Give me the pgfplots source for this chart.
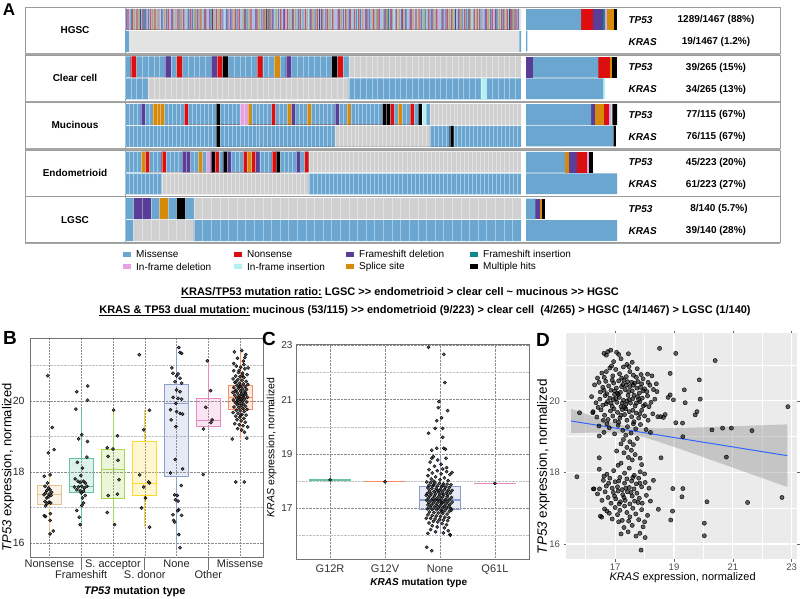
\documentclass[border=0pt]{standalone}
\usepackage{fontspec}
\setmainfont{Liberation Sans}
\usepackage{pgfplots}
\pgfplotsset{compat=1.18}

% mutation classes
\definecolor{mis}{HTML}{6AA6CF}
\definecolor{non}{HTML}{DD0E0E}
\definecolor{fsd}{HTML}{5A3D96}
\definecolor{fsi}{HTML}{0E8A8A}
\definecolor{ifd}{HTML}{E3A3DF}
\definecolor{ifi}{HTML}{B5F0F0}
\definecolor{spl}{HTML}{D68A0C}
\definecolor{mul}{HTML}{000000}
\definecolor{nomut}{HTML}{D0D0D0}
\definecolor{hgscmis}{HTML}{A6C5E0}
\definecolor{framegray}{HTML}{9C9C9C}
% box colours
\definecolor{sTan}{HTML}{E5C494}
\definecolor{sTeal}{HTML}{66C2A5}
\definecolor{sLime}{HTML}{A6D854}
\definecolor{sYel}{HTML}{FFD92F}
\definecolor{sBlue}{HTML}{8DA0CB}
\definecolor{sPink}{HTML}{E78AC3}
\definecolor{sOra}{HTML}{FC8D62}
\definecolor{fitline}{HTML}{3366FF}

\newcommand{\fs}[1]{\fontsize{#1}{#1}\selectfont}
\newcommand{\low}[1]{\raisebox{-10.5pt}[0pt][0pt]{#1}}
% one class of cells in a track: pairs (start,1)(end,0)
\newcommand{\cells}[2]{\addplot[const plot, fill=#1, draw=none] coordinates {#2} \closedcycle;}
\newcommand{\cellsT}[2]{\addplot[const plot, fill=#1, fill opacity=0.6, draw=none] coordinates {#2} \closedcycle;}
% box: colour, left, centre, right, lower whisker, Q1, median, Q3, upper whisker
\newcommand{\bbox}[9]{%
  \addplot[draw=#1, line width=0.8pt] coordinates {(#3,#5)(#3,#6)};
  \addplot[draw=#1, line width=0.8pt] coordinates {(#3,#8)(#3,#9)};
  \addplot[draw=#1, fill=#1, fill opacity=0.22, line width=0.8pt] coordinates {(#2,#6)(#4,#6)(#4,#8)(#2,#8)} -- cycle;
  \addplot[draw=#1, line width=1.1pt] coordinates {(#2,#7)(#4,#7)};}

\pgfplotsset{
  track/.style={scale only axis, width=396pt, height=21pt, xmin=0, xmax=#1,
    ymin=0, ymax=1, axis line style={draw=none}, tick style={draw=none},
    xticklabels={}, ytick=\empty, axis on top, xmajorgrids,
    major grid style={white, opacity=0.4, line width=0.35pt},
    anchor=north west},
  summ/.style={scale only axis, width=91pt, height=43pt, xmin=0, xmax=#1,
    ymin=0.5, ymax=2.5, xbar stacked, bar width=0.96, hide axis, anchor=north west},
  pts/.style={only marks, mark=*, mark size=1.6pt,
    mark options={draw=none, fill=black!85, fill opacity=0.75}},
  vgrid/.style={black!45, densely dotted, line width=0.5pt},
}

\begin{document}
\begin{tikzpicture}
\path[use as bounding box] (0,0) rectangle (800pt,-599pt);

% ================= A =================
\node[font=\fs{17}\bfseries] at (9pt,-10pt) {A};
\foreach \t/\nm in {7.3/HGSC, 55/Clear cell, 102.3/Mucinous, 150/Endometrioid, 196.7/LGSC} {
  \draw[framegray, line width=0.7pt] (25pt,{-\t*1pt}) rectangle (780pt,{-(\t+46)*1pt});
  \draw[black!35, line width=1.4pt] (25pt,{-(\t+46.6)*1pt}) -- (780pt,{-(\t+46.6)*1pt});
  \draw[framegray, line width=0.7pt] (125pt,{-\t*1pt}) -- (125pt,{-(\t+46)*1pt});
  \node[font=\fs{10}\bfseries] at (75pt,{-(\t+23)*1pt}) {\nm};
  \node[anchor=west, font=\fs{10}\bfseries\itshape] at (625pt,{-(\t+12.5)*1pt}) {TP53};
  \node[anchor=west, font=\fs{10}\bfseries\itshape] at (625pt,{-(\t+34.5)*1pt}) {KRAS};
}
\node[font=\fs{10}\bfseries] at (716pt,-19.8pt) {1289/1467 (88\%)};
\node[font=\fs{10}\bfseries] at (716pt,-41.8pt) {19/1467 (1.2\%)};
\node[font=\fs{10}\bfseries] at (716pt,-67.5pt) {39/265 (15\%)};
\node[font=\fs{10}\bfseries] at (716pt,-89.5pt) {34/265 (13\%)};
\node[font=\fs{10}\bfseries] at (716pt,-114.8pt) {77/115 (67\%)};
\node[font=\fs{10}\bfseries] at (716pt,-136.8pt) {76/115 (67\%)};
\node[font=\fs{10}\bfseries] at (716pt,-162.5pt) {45/223 (20\%)};
\node[font=\fs{10}\bfseries] at (716pt,-184.5pt) {61/223 (27\%)};
\node[font=\fs{10}\bfseries] at (719pt,-209.2pt) {8/140 (5.7\%)};
\node[font=\fs{10}\bfseries] at (716pt,-231.2pt) {39/140 (28\%)};

% ---- HGSC (1294 samples shown)
\begin{axis}[track=1294, at={(125pt,-8.8pt)}, xtick=\empty]
\cells{hgscmis}{(0,1)(1289,0)}
\cells{nomut!60!white}{(1289,1)(1294,0)}
\cellsT{non}{(8,1)(12,0)(37,1)(41,0)(81,1)(85,0)(96,1)(100,0)(139,1)(143,0)(171,1)(175,0)(190,1)(194,0)(236,1)(240,0)(262,1)(266,0)(297,1)(301,0)(311,1)(315,0)(358,1)(362,0)(371,1)(375,0)(410,1)(414,0)(452,1)(456,0)(466,1)(470,0)(507,1)(511,0)(529,1)(533,0)(571,1)(575,0)(588,1)(592,0)(626,1)(630,0)(660,1)(664,0)(677,1)(681,0)(719,1)(723,0)(748,1)(752,0)(762,1)(766,0)(811,1)(815,0)(829,1)(833,0)(870,1)(874,0)(884,1)(888,0)(930,1)(934,0)(949,1)(953,0)(990,1)(994,0)(1017,1)(1021,0)(1051,1)(1055,0)(1066,1)(1070,0)(1108,1)(1112,0)(1139,1)(1143,0)(1157,1)(1161,0)(1198,1)(1202,0)(1229,1)(1233,0)(1247,1)(1251,0)(1276,1)(1280,0)}
\cellsT{non}{(23,1)(26,0)(60,1)(63,0)(110,1)(113,0)(155,1)(158,0)(212,1)(215,0)(244,1)(247,0)(285,1)(288,0)(336,1)(339,0)(389,1)(392,0)(430,1)(433,0)(475,1)(478,0)(520,1)(523,0)(548,1)(551,0)(607,1)(610,0)(642,1)(645,0)(700,1)(703,0)(735,1)(738,0)(790,1)(793,0)(845,1)(848,0)(905,1)(908,0)(960,1)(963,0)(1005,1)(1008,0)(1040,1)(1043,0)(1090,1)(1093,0)(1125,1)(1128,0)(1180,1)(1183,0)(1210,1)(1213,0)(1258,1)(1261,0)}
\cellsT{fsd}{(18,1)(23,0)(55,1)(60,0)(66,1)(71,0)(118,1)(123,0)(150,1)(155,0)(205,1)(210,0)(218,1)(223,0)(275,1)(280,0)(330,1)(335,0)(343,1)(348,0)(392,1)(397,0)(425,1)(430,0)(481,1)(486,0)(517,1)(522,0)(545,1)(550,0)(603,1)(608,0)(640,1)(645,0)(695,1)(700,0)(731,1)(736,0)(785,1)(790,0)(796,1)(801,0)(848,1)(853,0)(902,1)(907,0)(915,1)(920,0)(966,1)(971,0)(1000,1)(1005,0)(1034,1)(1039,0)(1088,1)(1093,0)(1120,1)(1125,0)(1175,1)(1180,0)(1209,1)(1214,0)(1262,1)(1267,0)(1283,1)(1288,0)}
\cellsT{fsd}{(3,1)(6,0)(75,1)(78,0)(134,1)(137,0)(178,1)(181,0)(258,1)(261,0)(318,1)(321,0)(365,1)(368,0)(446,1)(449,0)(500,1)(503,0)(565,1)(568,0)(620,1)(623,0)(655,1)(658,0)(712,1)(715,0)(768,1)(771,0)(825,1)(828,0)(866,1)(869,0)(935,1)(938,0)(995,1)(998,0)(1047,1)(1050,0)(1100,1)(1103,0)(1150,1)(1153,0)(1193,1)(1196,0)(1235,1)(1238,0)(1272,1)(1275,0)}
\cellsT{spl}{(28,1)(32,0)(89,1)(93,0)(127,1)(131,0)(183,1)(187,0)(248,1)(252,0)(305,1)(309,0)(384,1)(388,0)(437,1)(441,0)(492,1)(496,0)(556,1)(560,0)(612,1)(616,0)(668,1)(672,0)(705,1)(709,0)(775,1)(779,0)(820,1)(824,0)(895,1)(899,0)(940,1)(944,0)(975,1)(979,0)(1058,1)(1062,0)(1095,1)(1099,0)(1148,1)(1152,0)(1185,1)(1189,0)(1238,1)(1242,0)(1268,1)(1272,0)}
\cellsT{spl}{(44,1)(47,0)(104,1)(107,0)(165,1)(168,0)(226,1)(229,0)(290,1)(293,0)(350,1)(353,0)(404,1)(407,0)(458,1)(461,0)(537,1)(540,0)(595,1)(598,0)(648,1)(651,0)(724,1)(727,0)(806,1)(809,0)(853,1)(856,0)(910,1)(913,0)(958,1)(961,0)(1012,1)(1015,0)(1070,1)(1073,0)(1128,1)(1131,0)(1222,1)(1225,0)}
\cellsT{fsi}{(62,1)(65,0)(230,1)(233,0)(398,1)(401,0)(470,1)(473,0)(580,1)(583,0)(755,1)(758,0)(860,1)(863,0)(980,1)(983,0)(1115,1)(1118,0)(1165,1)(1168,0)(1215,1)(1218,0)}
\cellsT{ifd}{(70,1)(73,0)(145,1)(149,0)(270,1)(273,0)(338,1)(342,0)(418,1)(421,0)(523,1)(527,0)(632,1)(635,0)(688,1)(692,0)(780,1)(783,0)(940,1)(943,0)(1025,1)(1029,0)(1083,1)(1086,0)(1168,1)(1172,0)(1205,1)(1208,0)}
\cellsT{mul}{(49,1)(52,0)(283,1)(286,0)(461,1)(464,0)(634,1)(637,0)(858,1)(861,0)(1078,1)(1081,0)(1255,1)(1258,0)}
\cellsT{ifi}{(112,1)(116,0)(324,1)(328,0)(597,1)(601,0)(877,1)(881,0)(1132,1)(1136,0)}
\end{axis}
\begin{axis}[track=1294, at={(125pt,-30.8pt)}, xtick=\empty]
\cells{mis}{(0,1)(14,0)}
\cells{nomut!60!white}{(14,1)(1289,0)}
\cells{mis}{(1289,1)(1294,0)}
\end{axis}
\begin{axis}[summ=1289, at={(526pt,-8.8pt)}]
\addplot[fill=mis, draw=none] coordinates {(780,2) (19,1)};
\addplot[fill=non, draw=none] coordinates {(166,2) (0,1)};
\addplot[fill=fsd, draw=none] coordinates {(142,2) (0,1)};
\addplot[fill=fsi, draw=none] coordinates {(33,2) (0,1)};
\addplot[fill=ifd, draw=none] coordinates {(22,2) (0,1)};
\addplot[fill=spl, draw=none] coordinates {(110,2) (0,1)};
\addplot[fill=mul, draw=none] coordinates {(36,2) (0,1)};
\end{axis}

% ---- Clear cell (69 samples shown)
\begin{axis}[track=69, at={(125pt,-56.5pt)}, xtick={0,1,...,69}]
\cells{mis}{(0,1)(39,0)}
\cells{nomut}{(39,1)(69,0)}
\cells{non}{(1,1)(2,0)(9,1)(10,0)(16,1)(17,0)(23,1)(24,0)(37,1)(38,0)}
\cells{fsd}{(7,1)(8,0)(15,1)(16,0)(28,1)(29,0)}
\cells{mul}{(17,1)(18,0)(36,1)(37,0)}
\cells{spl}{(26,1)(27,0)}
\end{axis}
\begin{axis}[track=69, at={(125pt,-78.5pt)}, xtick={0,1,...,69}]
\cells{mis}{(0,1)(4,0)}
\cells{nomut}{(4,1)(39,0)}
\cells{mis}{(39,1)(69,0)}
\cells{ifi}{(62,1)(63,0)}
\end{axis}
\begin{axis}[summ=39, at={(526pt,-56.5pt)}]
\addplot[fill=fsd, draw=none] coordinates {(3,2) (0,1)};
\addplot[fill=mis, draw=none] coordinates {(28,2) (33,1)};
\addplot[fill=non, draw=none] coordinates {(5,2) (0,1)};
\addplot[fill=spl, draw=none] coordinates {(1,2) (0,1)};
\addplot[fill=mul, draw=none] coordinates {(2,2) (0,1)};
\addplot[fill=ifi, draw=none] coordinates {(0,2) (1,1)};
\end{axis}

% ---- Mucinous (100 samples shown)
\begin{axis}[track=100, at={(125pt,-103.8pt)}, xtick={0,1,...,100}]
\cells{mis}{(0,1)(77,0)}
\cells{nomut}{(77,1)(100,0)}
\cells{fsd}{(4,1)(5,0)(42,1)(43,0)(53,1)(54,0)}
\cells{spl}{(7,1)(10,0)(31,1)(32,0)(41,1)(42,0)(46,1)(47,0)(56,1)(57,0)(69,1)(70,0)}
\cells{non}{(15,1)(16,0)(37,1)(38,0)(67,1)(68,0)(72,1)(73,0)}
\cells{mul}{(23,1)(24,0)(65,1)(67,0)(74,1)(75,0)}
\cells{ifd}{(29,1)(31,0)}
\cells{ifi}{(75,1)(76,0)}
\end{axis}
\begin{axis}[track=100, at={(125pt,-125.8pt)}, xtick={0,1,...,100}]
\cells{mis}{(0,1)(53,0)}
\cells{nomut}{(53,1)(77,0)}
\cells{mis}{(77,1)(100,0)}
\cells{mul}{(23,1)(24,0)(82,1)(83,0)}
\end{axis}
\begin{axis}[summ=77, at={(526pt,-103.8pt)}]
\addplot[fill=mis, draw=none] coordinates {(55,2) (74,1)};
\addplot[fill=fsd, draw=none] coordinates {(3,2) (0,1)};
\addplot[fill=spl, draw=none] coordinates {(8,2) (0,1)};
\addplot[fill=non, draw=none] coordinates {(4,2) (0,1)};
\addplot[fill=ifd, draw=none] coordinates {(2,2) (0,1)};
\addplot[fill=ifi, draw=none] coordinates {(1,2) (0,1)};
\addplot[fill=mul, draw=none] coordinates {(4,2) (2,1)};
\end{axis}

% ---- Endometrioid (97 samples shown)
\begin{axis}[track=97, at={(125pt,-151.5pt)}, xtick={0,1,...,97}]
\cells{mis}{(0,1)(45,0)}
\cells{nomut}{(45,1)(97,0)}
\cells{non}{(5,1)(6,0)(9,1)(10,0)(22,1)(23,0)(29,1)(30,0)(31,1)(32,0)(36,1)(37,0)(44,1)(45,0)}
\cells{spl}{(4,1)(5,0)(18,1)(19,0)(30,1)(31,0)}
\cells{fsd}{(14,1)(16,0)(25,1)(26,0)(32,1)(33,0)(42,1)(43,0)}
\cells{mul}{(21,1)(22,0)(24,1)(25,0)(37,1)(38,0)}
\cells{ifd}{(20,1)(21,0)}
\end{axis}
\begin{axis}[track=97, at={(125pt,-173.5pt)}, xtick={0,1,...,97}]
\cells{mis}{(0,1)(9,0)}
\cells{nomut}{(9,1)(45,0)}
\cells{mis}{(45,1)(97,0)}
\end{axis}
\begin{axis}[summ=61, at={(526pt,-151.5pt)}]
\addplot[fill=mis, draw=none] coordinates {(26,2) (61,1)};
\addplot[fill=spl, draw=none] coordinates {(3,2) (0,1)};
\addplot[fill=fsd, draw=none] coordinates {(5,2) (0,1)};
\addplot[fill=non, draw=none] coordinates {(7,2) (0,1)};
\addplot[fill=ifd, draw=none] coordinates {(1,2) (0,1)};
\addplot[fill=mul, draw=none] coordinates {(3,2) (0,1)};
\end{axis}

% ---- LGSC (46 samples shown)
\begin{axis}[track=46, at={(125pt,-198.2pt)}, xtick={0,1,...,46}]
\cells{mis}{(0,1)(8,0)}
\cells{nomut}{(8,1)(46,0)}
\cells{fsd}{(1,1)(3,0)}
\cells{spl}{(4,1)(5,0)}
\cells{mul}{(6,1)(7,0)}
\end{axis}
\begin{axis}[track=46, at={(125pt,-220.2pt)}, xtick={0,1,...,46}]
\cells{mis}{(0,1)(1,0)}
\cells{nomut}{(1,1)(8,0)}
\cells{mis}{(8,1)(46,0)}
\end{axis}
\begin{axis}[summ=39, at={(526pt,-198.2pt)}]
\addplot[fill=mis, draw=none] coordinates {(4,2) (39,1)};
\addplot[fill=fsd, draw=none] coordinates {(2,2) (0,1)};
\addplot[fill=spl, draw=none] coordinates {(1,2) (0,1)};
\addplot[fill=mul, draw=none] coordinates {(1,2) (0,1)};
\end{axis}

% ---- legend
\foreach \x/\y/\c/\l in {123/254/mis/Missense, 234/254/non/Nonsense, 346/254/fsd/Frameshift deletion, 470/254/fsi/Frameshift insertion,
  123/266.5/ifd/In-frame deletion, 234/266.5/ifi/In-frame insertion, 346/266.5/spl/Splice site, 470/266.5/mul/Multiple hits} {
  \fill[\c] (\x pt,{-(\y-2.5)*1pt}) rectangle ({(\x+8)*1pt},{-(\y+2.5)*1pt});
  \node[anchor=west, font=\fs{10}, inner sep=0pt] at ({(\x+13)*1pt},{-\y*1pt}) {\l};
}

\node[font=\fs{11}\bfseries] at (400pt,-293pt) {\underline{KRAS/TP53 mutation ratio:} LGSC >{}> endometrioid > clear cell \textasciitilde{} mucinous >{}> HGSC};
\node[font=\fs{11}\bfseries] at (425pt,-311pt) {\underline{KRAS \& TP53 dual mutation:} mucinous (53/115) >{}> endometrioid (9/223) > clear cell\ \ (4/265) > HGSC (14/1467) > LGSC (1/140)};

% ================= B =================
\node[font=\fs{19}\bfseries] at (10pt,-338pt) {B};
\begin{axis}[at={(30pt,-557pt)}, anchor=south west, scale only axis,
  width=233pt, height=219pt, xmin=0.39, xmax=7.72, ymin=15.61, ymax=21.77,
  clip=false,
  /pgf/number format/assume math mode=true,
  xtick={1,2,3,4,5,6,7},
  xticklabels={Nonsense,\low{Frameshift},S. acceptor,\low{S. donor},None,\low{Other},Missense},
  tick style={draw=none}, major tick length=0pt,
  ytick={16,18,20}, minor ytick={17,19,21}, minor tick length=0pt,
  ymajorgrids, yminorgrids,
  major grid style={black!45, densely dotted, line width=0.5pt},
  minor grid style={black!25, densely dotted, line width=0.4pt},
  axis line style={black!55, line width=0.7pt},
  tick label style={font=\fs{11}, text=black!85},
  yticklabel style={font=\fs{10.5}, xshift=-2pt},
  xticklabel style={inner sep=1.5pt, yshift=-1pt, text height=8pt, text depth=2pt},
  xlabel={\textbf{\textit{TP53} mutation type}},
  xlabel style={font=\fs{11}, at={(axis description cs:0.45,-0.158)}, anchor=center},
  ylabel={\textit{TP53} expression, normalized},
  ylabel style={font=\fs{13}, at={(axis description cs:-0.094,0.41)}, anchor=center},
]
% category guide lines
\addplot[vgrid] coordinates {(1,15.61)(1,21.77)};
\addplot[vgrid] coordinates {(2,15.61)(2,21.77)};
\addplot[vgrid] coordinates {(3,15.61)(3,21.77)};
\addplot[vgrid] coordinates {(4,15.61)(4,21.77)};
\addplot[vgrid] coordinates {(5,15.61)(5,21.77)};
\addplot[vgrid] coordinates {(6,15.61)(6,21.77)};
\addplot[vgrid] coordinates {(7,15.61)(7,21.77)};
% separators under the staggered category names
\addplot[black!55, line width=0.6pt] coordinates {(2,15.61)(2,15.24)};
\addplot[black!55, line width=0.6pt] coordinates {(4,15.61)(4,15.24)};
\addplot[black!55, line width=0.6pt] coordinates {(6,15.61)(6,15.24)};
\bbox{sTan}{0.625}{1}{1.375}{16.26}{17.10}{17.36}{17.63}{17.92}
\bbox{sTeal}{1.625}{2}{2.375}{16.52}{17.44}{17.60}{18.38}{19.77}
\bbox{sLime}{2.625}{3}{3.375}{16.52}{17.27}{18.07}{18.65}{19.74}
\bbox{sYel}{3.625}{4}{4.375}{16.45}{17.34}{17.69}{18.86}{19.74}
\bbox{sBlue}{4.625}{5}{5.375}{15.85}{17.89}{19.92}{20.47}{21.50}
\bbox{sPink}{5.625}{6}{6.375}{19.21}{19.28}{19.46}{20.07}{21.13}
\bbox{sOra}{6.625}{7}{7.375}{18.93}{19.75}{20.10}{20.43}{21.43}
% Nonsense
\addplot[pts] coordinates {(0.95,20.71)(1.09,19.25)(1.15,18.63)(0.97,18.54)(0.84,17.88)(1.02,17.92)(0.94,17.69)(0.86,17.60)(0.97,17.55)(0.92,17.48)(1.02,17.50)(0.88,17.41)(0.99,17.38)(1.07,17.43)(0.83,17.36)(0.97,17.31)(1.05,17.34)(0.92,17.27)(0.86,17.17)(0.99,17.15)(0.93,17.11)(1.04,17.13)(0.88,17.05)(0.84,16.77)(0.88,16.75)(1.03,16.83)(1.02,16.64)(1.12,16.34)(1.02,16.26)};
% Frameshift
\addplot[pts] coordinates {(1.86,20.26)(2.21,20.42)(2.20,20.02)(1.83,19.77)(2.02,19.05)(1.92,18.93)(2.20,18.86)(2.18,18.42)(1.88,18.27)(2.04,18.11)(1.99,17.90)(1.81,17.81)(1.90,17.74)(1.97,17.71)(2.07,17.74)(2.13,17.69)(1.79,17.58)(1.92,17.58)(2.02,17.60)(2.10,17.55)(2.18,17.60)(1.86,17.50)(1.97,17.47)(2.07,17.46)(2.00,17.41)(2.13,17.34)(2.04,17.27)(2.07,17.13)(2.02,17.06)(1.86,16.92)(1.94,16.73)(1.97,16.52)};
% S. acceptor
\addplot[pts] coordinates {(3.02,19.74)(3.14,19.02)(2.82,18.68)(3.00,18.65)(2.85,18.44)(3.16,18.33)(3.19,17.78)(2.85,17.34)(3.14,17.38)(2.82,16.86)(3.05,16.52)};
% S. donor
\addplot[pts] coordinates {(3.83,21.30)(4.15,19.74)(3.97,19.19)(3.84,17.92)(4.15,17.69)(4.12,17.72)(3.97,17.58)(4.02,17.27)(3.90,16.99)(4.15,16.45)};
% None
\addplot[pts] coordinates {(5.07,21.50)(5.11,21.36)(5.16,21.34)(4.85,20.93)(4.89,20.78)(5.05,20.76)(5.00,20.70)(5.11,20.64)(4.95,20.54)(5.16,20.50)(5.00,20.31)(5.11,20.26)(4.89,20.10)(5.05,20.07)(5.16,20.05)(4.98,19.93)(4.81,19.75)(5.00,19.70)(5.11,19.65)(5.19,19.63)(4.83,19.47)(4.98,19.28)(4.96,18.35)(5.19,18.09)(4.81,17.97)(5.15,17.62)(4.94,17.36)(5.02,17.34)(4.97,17.22)(5.05,17.18)(5.07,16.94)(5.04,16.91)(4.89,16.80)(5.16,16.78)(4.91,16.64)(4.94,16.59)(5.07,16.24)(5.11,15.87)};
% Other
\addplot[pts] coordinates {(5.97,21.13)(6.07,20.29)(5.92,19.82)(6.12,19.47)(6.08,19.39)(5.85,19.21)(5.84,17.93)};
% Missense
\addplot[pts] coordinates {(6.82,21.38)(7.05,21.42)(7.18,21.30)(6.92,21.20)(7.10,21.12)(6.88,20.98)(7.02,20.95)(7.15,20.90)(6.80,20.85)(6.95,20.80)(7.08,20.78)(7.22,20.74)(6.86,20.70)(7.00,20.68)(7.12,20.66)(6.78,20.62)(6.93,20.60)(7.06,20.58)(7.19,20.55)(6.84,20.52)(6.98,20.50)(7.10,20.48)(7.24,20.46)(6.90,20.44)(7.03,20.42)(7.16,20.40)(6.80,20.38)(6.95,20.36)(7.08,20.34)(7.20,20.32)(6.87,20.30)(7.01,20.28)(7.13,20.26)(6.77,20.24)(6.92,20.22)(7.05,20.20)(7.18,20.18)(6.83,20.16)(6.97,20.14)(7.10,20.12)(7.23,20.10)(6.89,20.08)(7.02,20.06)(7.14,20.05)(6.79,20.03)(6.94,20.01)(7.07,19.99)(7.21,19.97)(6.85,19.95)(6.99,19.93)(7.11,19.91)(6.91,19.89)(7.04,19.87)(7.17,19.85)(6.81,19.83)(6.96,19.81)(7.09,19.79)(7.22,19.76)(6.88,19.74)(7.00,19.72)(7.13,19.70)(6.78,19.67)(6.93,19.65)(7.06,19.62)(7.19,19.60)(6.86,19.57)(6.99,19.54)(7.12,19.51)(6.90,19.47)(7.03,19.44)(7.16,19.40)(6.83,19.36)(6.97,19.33)(7.09,19.30)(7.24,19.27)(6.92,19.22)(7.05,19.18)(7.14,19.12)(6.87,20.54)(7.07,20.72)(6.97,20.86)(7.12,21.02)(6.84,20.27)(7.17,20.23)(6.90,19.98)(7.04,20.04)(6.95,20.10)(7.08,20.16)(6.99,20.40)(7.02,19.60)(6.75,18.93)(7.21,18.95)(6.86,17.72)(7.13,17.72)(7.15,21.22)(6.80,21.05)(7.25,20.93)};
\end{axis}

% ================= C =================
\node[font=\fs{19}\bfseries] at (269pt,-339pt) {C};
\begin{axis}[at={(296pt,-559pt)}, anchor=south west, scale only axis,
  width=233pt, height=215pt, xmin=0.38, xmax=4.62, ymin=15.14, ymax=23.04,
  /pgf/number format/assume math mode=true,
  xtick={1,2,3,4}, xticklabels={G12R,G12V,None,Q61L},
  ytick={17,19,21,23}, minor ytick={16,18,20,22},
  tick style={draw=none}, minor tick length=0pt,
  xmajorgrids, ymajorgrids, yminorgrids,
  major grid style={black!45, densely dotted, line width=0.5pt},
  minor grid style={black!25, densely dotted, line width=0.4pt},
  axis line style={black!55, line width=0.7pt},
  xticklabel style={font=\fs{11}, text=black!80, yshift=-2pt},
  yticklabel style={font=\fs{10}, text=black!80},
  xlabel={\textbf{\textit{KRAS} mutation type}},
  xlabel style={font=\fs{10}, at={(axis description cs:0.527,-0.113)}, anchor=center},
  ylabel={\textit{KRAS} expression, normalized},
  ylabel style={font=\fs{10.5}, at={(axis description cs:-0.104,0.519)}, anchor=center},
]
\addplot[draw=sTeal, line width=1.5pt] coordinates {(0.62,18.05)(1.38,18.05)};
\addplot[draw=sOra, line width=1.5pt] coordinates {(1.62,17.98)(2.38,17.98)};
\addplot[draw=sPink, line width=1.5pt] coordinates {(3.62,17.92)(4.38,17.92)};
\bbox{sBlue}{2.62}{3}{3.38}{16.14}{16.97}{17.31}{17.80}{18.96}
\addplot[pts] coordinates {(1,18.05)(2,17.98)(4,17.92)};
\addplot[pts] coordinates {(2.79,22.92)(3.07,22.66)(3.09,21.62)(2.98,20.92)(2.97,20.70)(3.14,20.59)(3.03,20.33)(2.94,20.22)(2.91,19.94)(3.05,19.94)(2.79,19.76)(3.05,19.61)(2.94,19.21)(2.85,19.14)(3.07,19.21)(3.10,19.17)(2.88,18.90)(2.85,18.84)(3.11,18.84)(2.76,15.57)(2.85,15.44)(3.18,16.04)
(2.80,18.42)(2.95,18.38)(3.12,18.35)(2.86,18.30)(3.02,18.27)(3.18,18.24)(2.78,18.20)(2.92,18.16)(3.08,18.12)(2.84,18.08)(3.00,18.05)(3.15,18.02)(2.89,18.00)(3.22,18.32)
(2.76,17.97)(2.83,17.95)(2.91,17.93)(2.99,17.92)(3.06,17.90)(3.13,17.89)(3.20,17.87)(2.80,17.85)(2.87,17.83)(2.95,17.82)(3.03,17.80)(3.10,17.78)(3.17,17.77)(2.78,17.75)(2.85,17.73)(2.93,17.72)(3.01,17.70)(3.08,17.69)(3.15,17.67)(3.22,17.66)(2.81,17.64)(2.89,17.62)(2.97,17.61)(3.04,17.60)(3.12,17.58)(3.19,17.57)(2.77,17.55)(2.84,17.54)(2.92,17.53)(3.00,17.52)(3.07,17.51)(3.14,17.50)(2.88,17.86)(3.05,17.84)(2.96,17.66)
(2.75,17.48)(2.82,17.47)(2.90,17.46)(2.98,17.44)(3.05,17.43)(3.13,17.42)(3.21,17.40)(2.79,17.38)(2.87,17.37)(2.94,17.36)(3.02,17.35)(3.10,17.33)(3.17,17.32)(2.76,17.30)(2.84,17.29)(2.91,17.28)(2.99,17.27)(3.07,17.25)(3.14,17.24)(3.22,17.23)(2.80,17.21)(2.88,17.20)(2.95,17.19)(3.03,17.18)(3.11,17.16)(3.18,17.15)(2.78,17.13)(2.85,17.12)(2.93,17.11)(3.00,17.10)(3.08,17.08)(3.16,17.07)(2.82,17.05)(2.90,17.04)(2.97,17.03)(3.05,17.02)(3.12,17.01)(3.20,17.00)(2.96,17.31)(3.04,17.22)
(2.77,16.98)(2.86,16.96)(2.94,16.95)(3.02,16.93)(3.09,16.91)(3.17,16.89)(2.81,16.87)(2.89,16.85)(2.97,16.83)(3.05,16.81)(3.13,16.79)(2.78,16.76)(2.86,16.74)(2.93,16.72)(3.01,16.70)(3.09,16.68)(3.16,16.66)(2.83,16.63)(2.91,16.61)(2.99,16.59)(3.06,16.57)(3.14,16.55)(2.88,16.52)(2.96,16.50)(3.21,16.94)(2.75,16.64)(3.03,16.88)
(2.80,16.46)(3.04,16.44)(3.12,16.40)(2.86,16.36)(2.95,16.32)(3.08,16.28)(2.83,16.22)(3.15,16.18)(2.92,16.14)(3.19,16.02)(2.78,16.08)(3.06,16.10)
(2.90,18.55)(3.02,18.62)(2.82,18.70)(3.12,18.50)(2.96,18.78)(3.05,18.45)};
\end{axis}

% ================= D =================
\node[font=\fs{19}\bfseries] at (543pt,-340pt) {D};
\begin{axis}[at={(566pt,-559pt)}, anchor=south west, scale only axis,
  width=231pt, height=226pt, xmin=15.33, xmax=23.18, ymin=15.58, ymax=21.90,
  /pgf/number format/assume math mode=true,
  axis background/.style={fill=black!8},
  axis line style={draw=none},
  xtick={17,19,21,23}, ytick={16,18,20},
  minor xtick={16,18,20,22}, minor ytick={17,19,21},
  grid=both, major grid style={white, line width=1.1pt}, minor grid style={white, line width=0.5pt},
  tick align=outside, major tick length=2.5pt, minor tick length=0pt,
  tick style={black!60, line width=0.5pt},
  ticklabel style={font=\fs{9.5}, text=black!70},
  xticklabel style={yshift=1.5pt},
  xlabel={\textit{KRAS} expression, normalized},
  xlabel style={font=\fs{11}, at={(axis description cs:0.505,-0.082)}, anchor=center},
  ylabel={\textit{TP53} expression, normalized},
  ylabel style={font=\fs{13.5}, at={(axis description cs:-0.098,0.408)}, anchor=center},
]
\addplot[only marks, mark=*, mark size=2.1pt, mark options={draw=none, fill=black, fill opacity=0.6}] coordinates {
(16.62,21.33)(16.75,21.38)(16.70,21.28)(17.05,21.36)(17.12,21.30)(17.45,21.32)(16.85,21.42)(17.20,21.18)(17.58,21.08)(16.95,21.10)(17.40,21.02)
(16.55,20.78)(16.70,20.82)(16.82,20.92)(16.92,20.70)(17.02,20.88)(17.15,20.76)(17.28,20.95)(17.38,20.68)(17.50,20.82)(17.62,20.72)(17.75,20.90)(17.88,20.74)(17.95,20.62)(18.10,20.75)(16.40,20.64)(16.63,20.66)(17.22,20.64)(17.72,20.66)(18.25,20.70)(16.88,20.98)(17.47,20.96)
(16.30,20.45)(16.45,20.52)(16.58,20.38)(16.68,20.55)(16.78,20.42)(16.86,20.30)(16.95,20.50)(17.04,20.36)(17.12,20.56)(17.18,20.24)(17.26,20.46)(17.34,20.32)(17.42,20.54)(17.50,20.40)(17.58,20.28)(17.66,20.50)(17.74,20.36)(17.82,20.22)(17.90,20.48)(18.00,20.34)(18.08,20.26)(18.18,20.44)(18.30,20.32)(16.50,20.25)(16.72,20.20)(16.90,20.58)(17.08,20.22)(17.30,20.58)(17.46,20.26)(17.62,20.44)(17.78,20.54)(17.95,20.28)(18.40,20.48)(16.62,20.30)(17.22,20.40)(17.56,20.52)(17.86,20.38)(16.98,20.28)(17.38,20.44)(18.12,20.52)
(16.20,20.12)(16.35,19.95)(16.48,20.05)(16.58,19.88)(16.66,20.15)(16.74,19.98)(16.82,20.08)(16.90,19.85)(16.98,20.18)(17.06,19.96)(17.14,20.10)(17.20,19.84)(17.28,20.02)(17.36,19.90)(17.44,20.16)(17.52,19.94)(17.60,20.06)(17.68,19.86)(17.76,20.12)(17.84,19.98)(17.92,20.08)(18.02,19.90)(18.10,20.14)(18.22,19.96)(18.35,20.05)(16.42,19.82)(16.70,19.92)(16.94,20.04)(17.10,20.18)(17.32,19.82)(17.48,20.04)(17.72,19.94)(17.96,19.86)(18.15,19.84)(16.86,19.94)(17.24,19.94)(17.64,20.16)(17.02,20.06)(17.40,20.00)(17.80,20.04)
(16.25,19.70)(16.38,19.55)(16.52,19.75)(16.64,19.60)(16.76,19.48)(16.84,19.72)(16.92,19.58)(17.00,19.44)(17.08,19.68)(17.16,19.52)(17.24,19.76)(17.32,19.62)(17.40,19.46)(17.48,19.70)(17.56,19.56)(17.64,19.42)(17.72,19.66)(17.80,19.52)(17.90,19.74)(18.00,19.58)(18.12,19.46)(18.28,19.64)(18.45,19.56)(16.60,19.46)(16.96,19.78)(17.20,19.60)(17.36,19.78)(17.60,19.74)(17.84,19.64)(17.12,19.40)
(16.45,19.30)(16.62,19.12)(16.80,19.25)(16.98,19.08)(17.10,19.32)(17.26,19.18)(17.42,19.28)(17.54,19.10)(17.70,19.22)(17.86,19.34)(18.05,19.20)(18.20,19.12)(16.72,19.36)(17.36,19.04)(17.62,19.36)
(17.28,18.92)(17.50,18.86)(17.62,18.78)(17.40,18.70)(17.55,18.62)(17.30,18.55)(17.68,18.50)(17.45,18.42)(17.58,18.35)(17.20,18.80)(17.75,18.95)(17.85,18.40)(17.05,18.60)(16.46,18.41)
(16.46,18.09)(16.72,17.95)(16.95,18.05)(17.10,18.20)(17.32,17.98)(17.48,18.12)(17.65,17.92)(17.85,18.02)(18.00,17.96)(17.20,18.26)(16.62,17.90)(17.90,18.22)
(16.28,17.54)(16.47,17.54)(16.60,17.78)(16.70,17.62)(16.82,17.84)(16.90,17.56)(17.00,17.74)(17.08,17.60)(17.16,17.86)(17.24,17.52)(17.32,17.70)(17.40,17.82)(17.48,17.58)(17.56,17.76)(17.64,17.54)(17.72,17.68)(17.80,17.84)(17.90,17.60)(18.02,17.72)(18.15,17.56)(18.30,17.78)(16.78,17.70)(17.12,17.76)(17.36,17.56)(17.60,17.86)(17.84,17.70)
(16.40,17.40)(16.55,17.22)(16.66,17.46)(16.76,17.30)(16.86,17.14)(16.94,17.44)(17.02,17.26)(17.10,17.48)(17.18,17.18)(17.26,17.38)(17.34,17.22)(17.42,17.46)(17.50,17.12)(17.58,17.34)(17.66,17.20)(17.74,17.42)(17.82,17.28)(17.92,17.14)(18.06,17.36)(18.20,17.20)(16.98,17.34)(17.30,17.30)(17.54,17.44)(17.78,17.16)(17.14,17.12)
(16.50,16.78)(16.54,16.75)(16.64,16.98)(16.80,16.86)(16.90,16.70)(17.00,17.02)(17.08,16.82)(17.16,16.94)(17.24,16.66)(17.32,17.06)(17.40,16.88)(17.50,16.76)(17.60,17.00)(17.70,16.84)(17.80,16.68)(17.90,16.96)(18.00,16.62)(18.10,16.80)(17.12,16.62)(17.46,16.64)(16.72,16.92)
(17.30,16.46)(17.44,16.34)(17.58,16.52)(17.71,16.22)(17.84,16.30)(18.02,16.18)(17.95,16.48)(17.20,16.28)(17.88,15.83)
(18.51,21.47)(19.06,21.33)(20.40,21.13)(18.87,20.77)(19.86,20.59)(19.35,20.31)(18.87,20.17)(18.98,20.03)(19.89,20.05)(19.38,19.95)(18.42,20.26)(18.55,19.56)(18.64,19.54)(19.72,19.61)(19.78,19.70)(19.06,19.39)(19.29,19.38)(19.30,19.00)(20.29,19.19)(20.65,19.24)(20.95,19.24)(21.65,19.17)(20.78,18.43)(18.56,18.41)(18.96,17.55)(19.30,17.55)(19.27,17.32)(18.47,16.97)(18.95,16.92)(18.89,16.67)(20.12,17.18)(20.03,16.58)(20.03,16.23)(21.50,17.16)(22.67,17.30)(22.87,19.84)(18.80,20.10)(18.70,19.62)
(15.70,17.88)(15.79,19.67)(16.24,19.67)(16.26,17.54)(16.46,19.02)};
% confidence band of the linear fit
\addplot[fill=black!45, fill opacity=0.4, draw=none] coordinates {
(15.5,19.78)(16,19.637)(16.5,19.499)(17,19.371)(17.5,19.276)(18,19.239)(18.5,19.235)(19,19.241)(19.5,19.252)(20,19.264)(20.5,19.278)(21,19.291)(21.5,19.306)(22,19.32)(22.5,19.335)(22.85,19.345)
(22.85,17.595)(22.5,17.697)(22,17.844)(21.5,17.99)(21,18.137)(20.5,18.282)(20,18.428)(19.5,18.572)(19,18.715)(18.5,18.853)(18,18.981)(17.5,19.076)(17,19.113)(16.5,19.117)(16,19.111)(15.5,19.10)} -- cycle;
\addplot[color=fitline, line width=1pt] coordinates {(15.5,19.44)(22.85,18.47)};
\end{axis}
\end{tikzpicture}
\end{document}
